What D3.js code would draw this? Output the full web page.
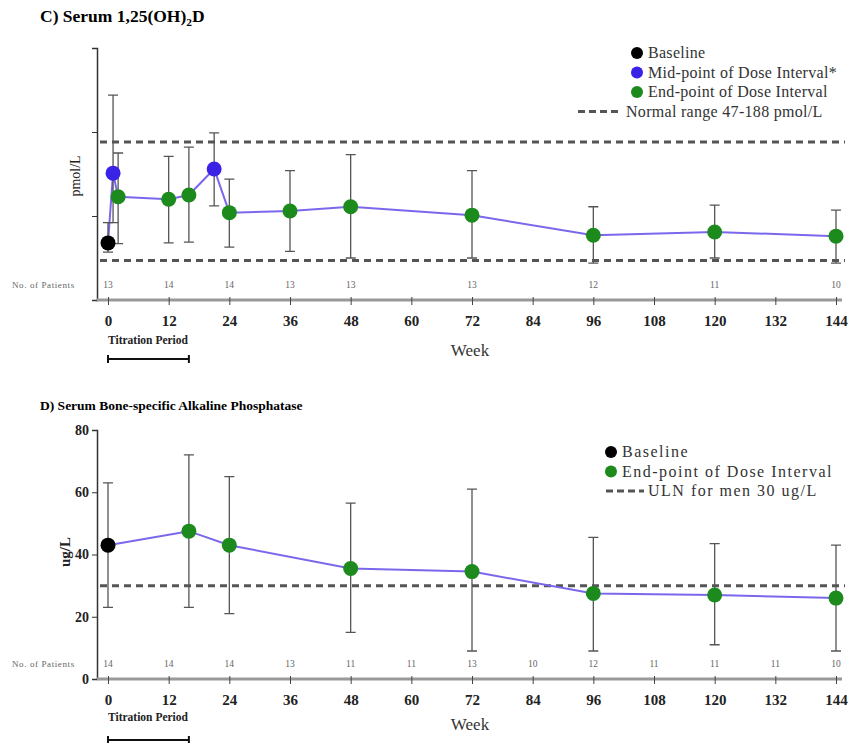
<!DOCTYPE html>
<html>
<head>
<meta charset="utf-8">
<script src="https://cdn.jsdelivr.net/npm/d3@7"></script>
<style>
  body { margin: 0; background: #fff; }
  svg { font-family: "Liberation Serif", "DejaVu Serif", serif; }
</style>
</head>
<body>
<svg width="849" height="743"></svg>
<script>
// ---- data: panel C, serum 1,25(OH)2D (pmol/L) ----
const cBaseline = [{ week: 0, mean: 68, lo: 57, hi: 92 }];
const cMid = [
  { week: 1, mean: 151, lo: 92, hi: 244 },
  { week: 21, mean: 156, lo: 112, hi: 199 }
];
const cEnd = [
  { week: 2, mean: 123, lo: 67, hi: 175 },
  { week: 12, mean: 120, lo: 68, hi: 171 },
  { week: 16, mean: 125, lo: 69, hi: 182 },
  { week: 24, mean: 104, lo: 63, hi: 144 },
  { week: 36, mean: 106, lo: 58, hi: 154 },
  { week: 48, mean: 111, lo: 50, hi: 173 },
  { week: 72, mean: 101, lo: 50, hi: 154 },
  { week: 96, mean: 77, lo: 44, hi: 111 },
  { week: 120, mean: 81, lo: 50, hi: 113 },
  { week: 144, mean: 76, lo: 44, hi: 107 }
];
const cRange = [47, 188];
const cYTicks = [0, 100, 200, 300];
const cPatientWeeks = [0, 12, 24, 36, 48, 72, 96, 120, 144];
const cPatients = [13, 14, 14, 13, 13, 13, 12, 11, 10];

// ---- data: panel D, bone-specific alkaline phosphatase (ug/L) ----
const dBaseline = [{ week: 0, mean: 43, lo: 23, hi: 63 }];
const dEnd = [
  { week: 16, mean: 47.5, lo: 23, hi: 72 },
  { week: 24, mean: 43, lo: 21, hi: 65 },
  { week: 48, mean: 35.5, lo: 15, hi: 56.5 },
  { week: 72, mean: 34.5, lo: 9, hi: 61 },
  { week: 96, mean: 27.5, lo: 9, hi: 45.5 },
  { week: 120, mean: 27, lo: 11, hi: 43.5 },
  { week: 144, mean: 26, lo: 9, hi: 43 }
];
const dUln = 30;
const dYTicks = [0, 20, 40, 60, 80];
const dPatientWeeks = [0, 12, 24, 36, 48, 60, 72, 84, 96, 108, 120, 132, 144];
const dPatients = [14, 14, 14, 13, 11, 11, 13, 10, 12, 11, 11, 11, 10];

const weekTicks = d3.range(0, 145, 12);
const titration = [0, 16];

const colBase = '#000000';
const colMid = '#3a22e6';
const colEnd = '#1c8a1c';
const colLine = '#7a68ec';
const colErr = '#555';
const colDash = '#555';

const svg = d3.select('svg');
const x = d3.scaleLinear().domain([0, 144]).range([108, 836]);

function panel(cfg) {
  const g = svg.append('g');
  const y = d3.scaleLinear().domain(cfg.yDomain).range([cfg.bottom, cfg.top]);

  g.append('text').attr('x', 40).attr('y', cfg.titleY)
    .attr('font-weight', 'bold').attr('font-size', cfg.titleSize).text(cfg.title)
    .call(t => { if (cfg.titleSub) { t.append('tspan').attr('font-size', cfg.titleSize * 0.65).attr('dy', 4).text(cfg.titleSub); t.append('tspan').attr('dy', -4).text(cfg.titleEnd); } });

  // y axis
  const yAxis = d3.axisLeft(y).tickValues(cfg.yTicks).tickSize(5).tickPadding(3)
    .tickFormat(cfg.yLabels ? d3.format('d') : () => '');
  g.append('g').attr('transform', 'translate(97,0)').call(yAxis)
    .call(a => a.select('.domain').attr('stroke', '#333').attr('stroke-width', 1.5))
    .call(a => a.selectAll('.tick line').attr('stroke', '#333'))
    .call(a => a.selectAll('.tick text').attr('font-size', 14).attr('font-weight', 'bold')
      .attr('fill', '#222').attr('font-family', '"Liberation Serif", serif'))
    .call(a => a.selectAll('.tick').filter(d => d === cfg.yDomain[0]).select('line').remove());

  g.append('text')
    .attr('transform', `translate(${cfg.yLabelX},${cfg.yLabelY}) rotate(-90)`)
    .attr('text-anchor', 'middle').attr('font-size', cfg.yLabelSize).attr('fill', '#222')
    .attr('font-weight', cfg.yLabelBold ? 'bold' : 'normal').text(cfg.yLabel);

  // x axis
  const xAxis = d3.axisBottom(x).tickValues(weekTicks).tickSize(5).tickPadding(10).tickSizeOuter(0);
  g.append('g').attr('transform', `translate(0,${cfg.bottom})`).call(xAxis)
    .call(a => a.select('.domain').attr('stroke', '#999').attr('stroke-width', 3)
      .attr('d', `M${97 - x(0)},0H${842 - x(0)}`).attr('transform', `translate(${x(0)},0)`))
    .call(a => a.selectAll('.tick line').attr('stroke', '#444').attr('y1', -3))
    .call(a => a.selectAll('.tick text').attr('font-size', 15).attr('font-weight', 'bold')
      .attr('fill', '#222').attr('font-family', '"Liberation Serif", serif'));

  g.append('text').attr('x', 470).attr('y', cfg.bottom + cfg.weekDy).attr('text-anchor', 'middle')
    .attr('font-size', 17).attr('fill', '#333').text('Week');

  g.append('text').attr('x', x(titration[0])).attr('y', cfg.bottom + cfg.titDy)
    .attr('font-size', 11.5).attr('font-weight', 'bold').attr('fill', '#222').text('Titration Period');
  const by = cfg.bottom + cfg.titDy + cfg.barDy;
  g.append('path')
    .attr('d', `M${x(titration[0])},${by - 4}V${by + 4}M${x(titration[0])},${by}H${x(titration[1])}M${x(titration[1])},${by - 4}V${by + 4}`)
    .attr('stroke', '#111').attr('stroke-width', 2).attr('fill', 'none');

  // patient counts
  g.append('text').attr('x', 12).attr('y', cfg.patientY).attr('font-size', 9)
    .attr('letter-spacing', 0.6).attr('fill', '#666').text('No. of Patients');
  g.selectAll('.np').data(cfg.patientWeeks).join('text')
    .attr('x', d => x(d)).attr('y', cfg.patientY).attr('text-anchor', 'middle')
    .attr('font-size', 9.5).attr('fill', '#666').text((d, i) => cfg.patients[i]);

  // reference lines
  cfg.refs.forEach(v => {
    g.append('line').attr('x1', 100).attr('x2', 845).attr('y1', y(v)).attr('y2', y(v))
      .attr('stroke', colDash).attr('stroke-width', 3).attr('stroke-dasharray', '7,5');
  });

  // connecting line
  const all = cfg.series.flatMap(s => s.data).sort((a, b) => a.week - b.week);
  g.append('path').datum(all)
    .attr('d', d3.line().x(d => x(d.week)).y(d => y(d.mean)))
    .attr('fill', 'none').attr('stroke', colLine).attr('stroke-width', 2);

  // error bars
  g.selectAll('.err').data(all).join('path')
    .attr('d', d => `M${x(d.week)},${y(d.lo)}V${y(d.hi)}M${x(d.week) - 5},${y(d.hi)}H${x(d.week) + 5}M${x(d.week) - 5},${y(d.lo)}H${x(d.week) + 5}`)
    .attr('stroke', colErr).attr('stroke-width', 1.3).attr('fill', 'none');

  // points
  cfg.series.forEach(s => {
    g.selectAll(null).data(s.data).join('circle')
      .attr('cx', d => x(d.week)).attr('cy', d => y(d.mean)).attr('r', 7.5)
      .attr('fill', s.color);
  });

  // legend
  const lg = g.append('g');
  cfg.series.forEach((s, i) => {
    const ly = cfg.legendY + i * 19.5;
    lg.append('circle').attr('cx', cfg.legendX).attr('cy', ly).attr('r', 6).attr('fill', s.color);
    lg.append('text').attr('x', cfg.legendX + 11).attr('y', ly + 5).attr('font-size', 16)
      .attr('letter-spacing', cfg.legendSpacing).attr('fill', '#333').text(s.name);
  });
  const ly = cfg.legendY + cfg.series.length * 19.5;
  lg.append('line').attr('x1', cfg.dashX0).attr('x2', cfg.dashX1).attr('y1', ly).attr('y2', ly)
    .attr('stroke', colDash).attr('stroke-width', 3).attr('stroke-dasharray', '7,4');
  lg.append('text').attr('x', cfg.dashX1 + 4).attr('y', ly + 5).attr('font-size', 16)
    .attr('letter-spacing', cfg.legendSpacing).attr('fill', '#333').text(cfg.refName);
}

panel({
  title: 'C) Serum 1,25(OH)', titleSub: '2', titleEnd: 'D', titleY: 22, titleSize: 17.5,
  yDomain: [0, 300], yTicks: cYTicks, yLabels: false, top: 48, bottom: 300,
  yLabel: 'pmol/L', yLabelX: 80, yLabelY: 176, yLabelSize: 14, yLabelBold: false,
  patientWeeks: cPatientWeeks, patients: cPatients, patientY: 288,
  weekDy: 56, titDy: 44, barDy: 15,
  refs: cRange,
  series: [
    { name: 'Baseline', color: colBase, data: cBaseline },
    { name: 'Mid-point of Dose Interval*', color: colMid, data: cMid },
    { name: 'End-point of Dose Interval', color: colEnd, data: cEnd }
  ],
  legendX: 637, legendY: 53, legendSpacing: 0.3,
  dashX0: 578, dashX1: 622, refName: 'Normal range 47-188 pmol/L'
});

panel({
  title: 'D) Serum Bone-specific Alkaline Phosphatase', titleY: 410, titleSize: 13.5,
  yDomain: [0, 80], yTicks: dYTicks, yLabels: true, top: 430, bottom: 679,
  yLabel: 'ug/L', yLabelX: 70, yLabelY: 552, yLabelSize: 15, yLabelBold: true,
  patientWeeks: dPatientWeeks, patients: dPatients, patientY: 667,
  weekDy: 51, titDy: 42, barDy: 19,
  refs: [dUln],
  series: [
    { name: 'Baseline', color: colBase, data: dBaseline },
    { name: 'End-point of Dose Interval', color: colEnd, data: dEnd }
  ],
  legendX: 611, legendY: 452, legendSpacing: 1.5,
  dashX0: 606, dashX1: 644, refName: 'ULN for men 30 ug/L'
});
</script>
</body>
</html>
